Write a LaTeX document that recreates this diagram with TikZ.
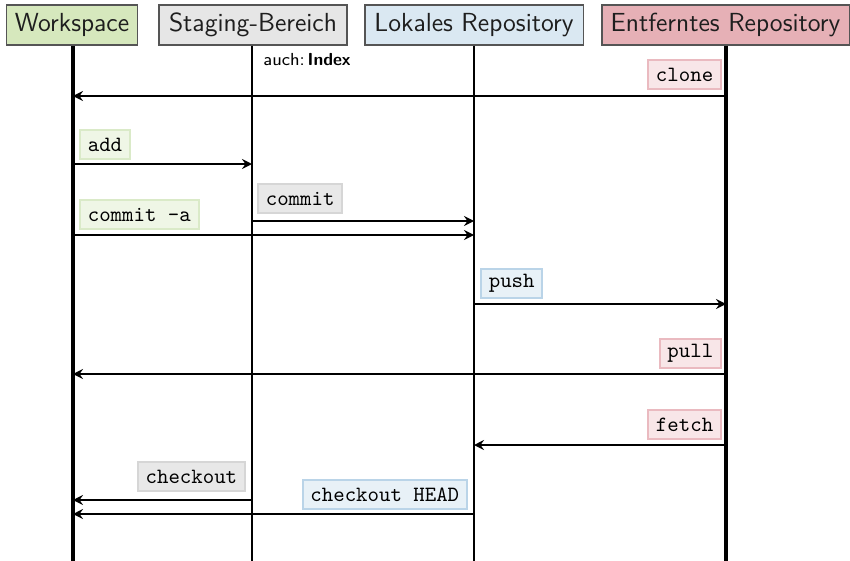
\documentclass[tikz,border=0pt]{standalone}
\usepackage{fontspec}
\usetikzlibrary{arrows.meta}
\definecolor{wsfill}{RGB}{214,232,189}
\definecolor{stfill}{RGB}{230,230,230}
\definecolor{lofill}{RGB}{218,232,242}
\definecolor{rmfill}{RGB}{230,176,182}
\definecolor{hdraw}{RGB}{85,85,85}
\definecolor{htext}{RGB}{30,30,30}
\definecolor{gLfill}{RGB}{239,246,230}
\definecolor{gLdraw}{RGB}{218,234,200}
\definecolor{sLfill}{RGB}{232,232,232}
\definecolor{sLdraw}{RGB}{214,214,214}
\definecolor{bLfill}{RGB}{232,241,247}
\definecolor{bLdraw}{RGB}{186,212,232}
\definecolor{pLfill}{RGB}{248,230,232}
\definecolor{pLdraw}{RGB}{234,186,192}
\tikzset{
  head/.style={draw=hdraw, line width=0.5pt, text=htext, font=\sffamily\large, minimum height=18.4pt, inner xsep=2pt, inner ysep=0pt},
  lifethick/.style={line width=1.4pt},
  lifethin/.style={line width=0.9pt},
  msg/.style={line width=0.9pt, -{Stealth[length=4.6pt,width=4.6pt,inset=1.6pt]}},
  lbl/.style={font=\ttfamily, line width=0.9pt, minimum height=13.2pt, inner xsep=3.6pt, inner ysep=2pt},
  gL/.style={lbl, fill=gLfill, draw=gLdraw},
  sL/.style={lbl, fill=sLfill, draw=sLdraw},
  bL/.style={lbl, fill=bLfill, draw=bLdraw},
  pL/.style={lbl, fill=pLfill, draw=pLdraw},
}
\begin{document}
\begin{tikzpicture}[x=0.459pt,y=-0.459pt]
\useasboundingbox (0,0) rectangle (850,560);
% headers
\node[head, fill=wsfill, minimum width=60.1pt] (ws) at (72,25) {Workspace};
\node[head, fill=stfill, minimum width=86.3pt] (st) at (253,25) {Staging-Bereich};
\node[head, fill=lofill, minimum width=100.1pt] (lo) at (474,25) {Lokales Repository};
\node[head, fill=rmfill, minimum width=113.4pt] (rm) at (725.5,25) {Entferntes Repository};
% lifeline ends
\coordinate (wsb) at (73,565);
\coordinate (stb) at (252,565);
\coordinate (lob) at (474,565);
\coordinate (rmb) at (726,565);
\draw[lifethick] (ws.south -| wsb) -- (wsb);
\draw[lifethin] (st.south -| stb) -- (stb);
\draw[lifethin] (lo.south -| lob) -- (lob);
\draw[lifethick] (rm.south -| rmb) -- (rmb);
\node[font=\sffamily\footnotesize, anchor=north west, inner sep=0pt] (idx) at (263,53) {auch:\,\textbf{Index}};
% event points
\coordinate (c1s) at (726,96);  \coordinate (c1e) at (73,96);
\coordinate (c2s) at (73,164);  \coordinate (c2e) at (252,164);
\coordinate (c3s) at (252,221); \coordinate (c3e) at (474,221);
\coordinate (c4s) at (73,235);  \coordinate (c4e) at (474,235);
\coordinate (c5s) at (474,304); \coordinate (c5e) at (726,304);
\coordinate (c6s) at (726,374); \coordinate (c6e) at (73,374);
\coordinate (c7s) at (726,445); \coordinate (c7e) at (474,445);
\coordinate (c8s) at (252,500); \coordinate (c8e) at (73,500);
\coordinate (c9s) at (474,514); \coordinate (c9e) at (73,514);
% messages
\draw[msg] (c1s) -- (c1e);
\draw[msg] (c2s) -- (c2e);
\draw[msg] (c3s) -- (c3e);
\draw[msg] (c4s) -- (c4e);
\draw[msg] (c5s) -- (c5e);
\draw[msg] (c6s) -- (c6e);
\draw[msg] (c7s) -- (c7e);
\draw[msg] (c8s) -- (c8e);
\draw[msg] (c9s) -- (c9e);
% labels
\node[pL, anchor=south east] (lclone) at ([shift={(-4,-6)}]c1s) {clone};
\node[gL, anchor=south west] (ladd) at ([shift={(6,-4)}]c2s) {add};
\node[sL, anchor=south west] (lcommit) at ([shift={(5,-7)}]c3s) {commit};
\node[gL, anchor=south west] (lcommita) at ([shift={(6,-5)}]c4s) {commit -a};
\node[bL, anchor=south west] (lpush) at ([shift={(6,-5)}]c5s) {push};
\node[pL, anchor=south east] (lpull) at ([shift={(-4,-5)}]c6s) {pull};
\node[pL, anchor=south east] (lfetch) at ([shift={(-4,-5)}]c7s) {fetch};
\node[sL, anchor=south east] (lcheckout) at ([shift={(-6,-8)}]c8s) {checkout};
\node[bL, anchor=south east] (lchead) at ([shift={(-6,-4)}]c9s) {checkout HEAD};
\end{tikzpicture}
\end{document}
